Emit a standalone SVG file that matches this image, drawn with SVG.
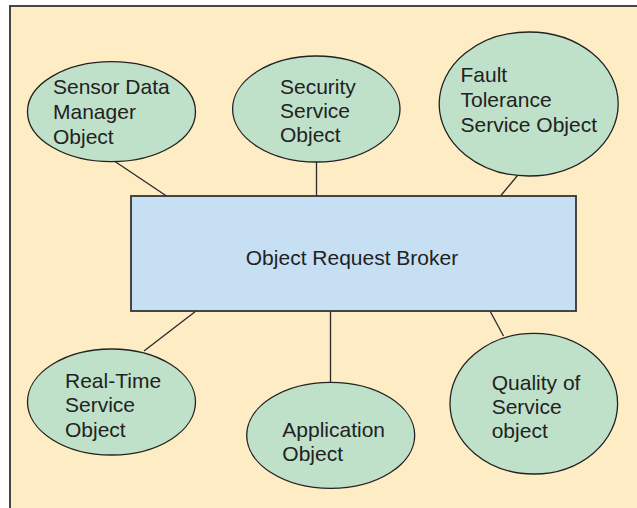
<svg xmlns="http://www.w3.org/2000/svg" width="637" height="508" viewBox="0 0 637 508">
  <style>
    .frame { fill: #fdecc4; stroke: #333; stroke-width: 1.8; }
    .broker { fill: #c6dff2; stroke: #333; stroke-width: 1.8; }
    .obj { fill: #bfe1c9; stroke: #222; stroke-width: 1.3; }
    .link { stroke: #2a2a2a; stroke-width: 1.3; fill: none; }
    text { font-family: "Liberation Sans", Arial, Helvetica, sans-serif; font-size: 21px; fill: #222; }
  </style>

  <!-- panel background -->
  <rect class="frame" x="10" y="6" width="640" height="520"/>

  <!-- connectors between the broker and each object -->
  <g id="connectors">
    <line class="link" x1="115" y1="161.5" x2="166.5" y2="196"/>
    <line class="link" x1="316.5" y1="162" x2="316.5" y2="196"/>
    <line class="link" x1="517.5" y1="175.5" x2="500.5" y2="196"/>
    <line class="link" x1="144" y1="351" x2="196" y2="311"/>
    <line class="link" x1="330.5" y1="311" x2="330.5" y2="382.5"/>
    <line class="link" x1="503.5" y1="336" x2="490" y2="311"/>
  </g>

  <g id="broker">
    <rect class="broker" x="131" y="196" width="445" height="115"/>
    <text x="352" y="265" text-anchor="middle">Object Request Broker</text>
  </g>

  <g id="sensor-data-manager">
    <ellipse class="obj" cx="111.5" cy="111.7" rx="84" ry="50"/>
    <text x="53" y="94">Sensor Data</text>
    <text x="53" y="119">Manager</text>
    <text x="53" y="144">Object</text>
  </g>

  <g id="security-service">
    <ellipse class="obj" cx="316.3" cy="109" rx="83.7" ry="53"/>
    <text x="280" y="94">Security</text>
    <text x="280" y="118">Service</text>
    <text x="280" y="142">Object</text>
  </g>

  <g id="fault-tolerance">
    <ellipse class="obj" cx="528.7" cy="104" rx="89.5" ry="72"/>
    <text x="460.5" y="82">Fault</text>
    <text x="460.5" y="107">Tolerance</text>
    <text x="460.5" y="132">Service Object</text>
  </g>

  <g id="real-time-service">
    <ellipse class="obj" cx="111.5" cy="402" rx="84" ry="53"/>
    <text x="65" y="388">Real-Time</text>
    <text x="65" y="412">Service</text>
    <text x="65" y="437">Object</text>
  </g>

  <g id="application">
    <ellipse class="obj" cx="330.7" cy="435.3" rx="84" ry="53"/>
    <text x="282.3" y="437">Application</text>
    <text x="282.3" y="461">Object</text>
  </g>

  <g id="quality-of-service">
    <ellipse class="obj" cx="533.8" cy="403.7" rx="83.8" ry="70.3"/>
    <text x="491.7" y="390">Quality of</text>
    <text x="491.7" y="414">Service</text>
    <text x="491.7" y="438">object</text>
  </g>
</svg>
